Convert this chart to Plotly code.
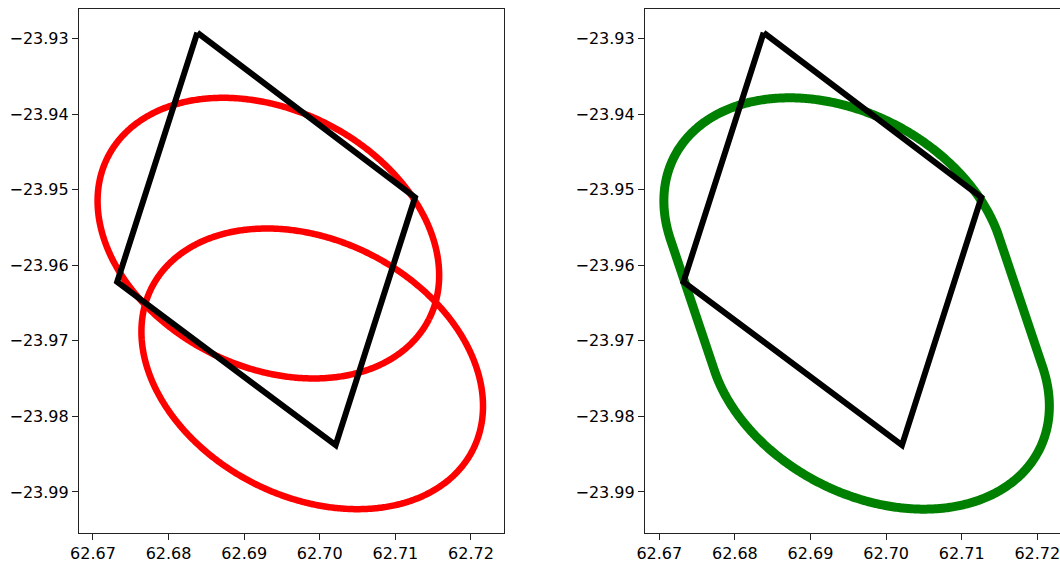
import numpy as np
import plotly.graph_objects as go

# Polygon vertices (lon, lat)
poly_lon = [62.6838, 62.7126, 62.7021, 62.6732, 62.6838]
poly_lat = [-23.9292, -23.9510, -23.9838, -23.9622, -23.9292]

# Ellipse parameters
ell_center_lon = [62.6932, 62.6990]
ell_center_lat = [-23.9564, -23.9737]
ell_semi_major = [0.0238, 0.0238]
ell_semi_minor = [0.0170, 0.0170]
ell_angle_deg = [-26.7, -26.7]

x_ticks = [62.67, 62.68, 62.69, 62.70, 62.71, 62.72]
y_ticks = [-23.93, -23.94, -23.95, -23.96, -23.97, -23.98, -23.99]


def ellipse_pts(cx, cy, a, b, ang, n=721):
    t = np.linspace(0, 2 * np.pi, n)
    th = np.deg2rad(ang)
    x = cx + a * np.cos(t) * np.cos(th) - b * np.sin(t) * np.sin(th)
    y = cy + a * np.cos(t) * np.sin(th) + b * np.sin(t) * np.cos(th)
    return x, y


def convex_hull(px, py):
    pts = sorted(set(zip(np.round(px, 10), np.round(py, 10))))

    def cross(o, a, b):
        return (a[0] - o[0]) * (b[1] - o[1]) - (a[1] - o[1]) * (b[0] - o[0])

    lower, upper = [], []
    for p in pts:
        while len(lower) >= 2 and cross(lower[-2], lower[-1], p) <= 0:
            lower.pop()
        lower.append(p)
    for p in reversed(pts):
        while len(upper) >= 2 and cross(upper[-2], upper[-1], p) <= 0:
            upper.pop()
        upper.append(p)
    hull = lower[:-1] + upper[:-1]
    hull.append(hull[0])
    return [p[0] for p in hull], [p[1] for p in hull]


ells = [ellipse_pts(ell_center_lon[i], ell_center_lat[i], ell_semi_major[i],
                    ell_semi_minor[i], ell_angle_deg[i]) for i in range(2)]
all_x = np.concatenate([e[0] for e in ells])
all_y = np.concatenate([e[1] for e in ells])
hull_x, hull_y = convex_hull(all_x, all_y)

fig = go.Figure()
for ex, ey in ells:
    fig.add_trace(go.Scatter(x=ex, y=ey, mode="lines",
                             line=dict(color="#ff0000", width=6.5, simplify=False),
                             xaxis="x", yaxis="y", hoverinfo="skip"))
fig.add_trace(go.Scatter(x=poly_lon, y=poly_lat, mode="lines",
                         line=dict(color="black", width=6),
                         xaxis="x", yaxis="y", hoverinfo="skip"))
fig.add_trace(go.Scatter(x=hull_x, y=hull_y, mode="lines",
                         line=dict(color="#008000", width=9, simplify=False),
                         xaxis="x2", yaxis="y2", hoverinfo="skip"))
fig.add_trace(go.Scatter(x=poly_lon, y=poly_lat, mode="lines",
                         line=dict(color="black", width=6),
                         xaxis="x2", yaxis="y2", hoverinfo="skip"))


def fmt(v):
    s = f"{v:.2f}"
    return s.replace("-", "\u2212")


font = dict(family="DejaVu Sans", size=16, color="black")
xcommon = dict(tickmode="array", tickvals=x_ticks, ticktext=[fmt(v) for v in x_ticks],
               showgrid=False, zeroline=False, showline=True, linecolor="#222",
               linewidth=1.2, mirror=True, ticks="outside", ticklen=6,
               tickcolor="#222", tickfont=font, ticklabeloverflow="allow")
ycommon = dict(tickmode="array", tickvals=y_ticks, ticktext=[fmt(v) for v in y_ticks],
               showgrid=False, zeroline=False, showline=True, linecolor="#222",
               linewidth=1.2, ticks="outside", ticklen=6,
               tickcolor="#222", tickfont=font, range=[-23.99543, -23.92607],
               ticklabeloverflow="allow")

W, H = 1060, 563
L, T, B = 79, 9, 30
pw = W - L
fig.update_layout(
    width=W, height=H, showlegend=False,
    plot_bgcolor="white", paper_bgcolor="white",
    margin=dict(l=L, r=0, t=T, b=B),
    xaxis=dict(xcommon, domain=[0, (504 - L) / pw], range=[62.66815, 62.72437], anchor="y"),
    yaxis=dict(ycommon, domain=[0, 1], anchor="x", mirror=True),
    xaxis2=dict(xcommon, domain=[(645 - L) / pw, 1], range=[62.66811, 62.72300], anchor="y2"),
    yaxis2=dict(ycommon, domain=[0, 1], anchor="x2", mirror=False),
)

fig.write_html(
    "out.html",
    config={"displayModeBar": False},
    post_script="document.body.style.margin='0';document.body.style.overflow='hidden';",
)
